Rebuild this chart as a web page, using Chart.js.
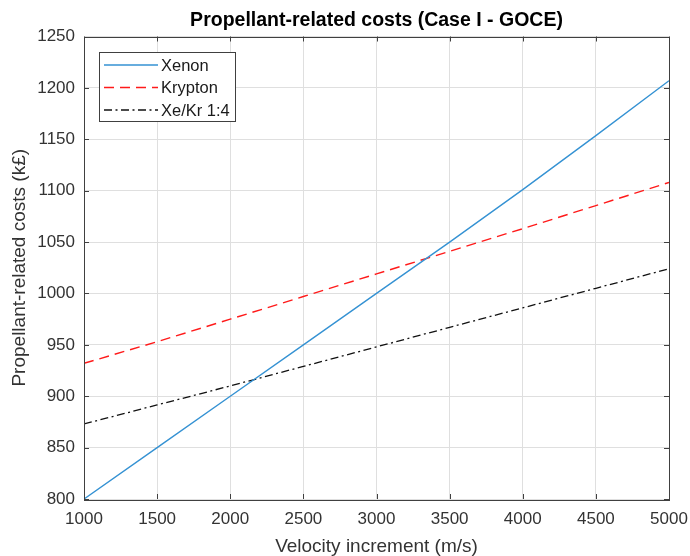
<!DOCTYPE html>
<html>
<head>
<meta charset="utf-8">
<script src="https://cdn.jsdelivr.net/npm/chart.js@4.4.1/dist/chart.umd.min.js"></script>
<style>
  html, body { margin: 0; padding: 0; background: #fff; }
  #wrap { width: 690px; height: 556px; }
</style>
</head>
<body>
<div id="wrap"><canvas id="costChart" width="690" height="556"></canvas></div>
<script>
// Velocity increment (m/s)
const deltaV = [1000, 1500, 2000, 2500, 3000, 3500, 4000, 4500, 5000];

// Propellant-related costs (k£) per propellant option
const xenonCost   = [800, 850, 900, 950, 1000, 1050, 1101, 1153.5, 1207];
const kryptonCost = [932, 953, 975, 997, 1019, 1041, 1063, 1085.5, 1108];
const mixCost     = [873, 891.5, 910, 929, 948, 967, 986, 1005, 1024];

// Axis ticks
const xTicks = [1000, 1500, 2000, 2500, 3000, 3500, 4000, 4500, 5000];
const yTicks = [800, 850, 900, 950, 1000, 1050, 1100, 1150, 1200, 1250];

const FONT = '"Liberation Sans", Arial, Helvetica, sans-serif';
const AXIS_COLOR = '#404040';
const GRID_COLOR = '#dfdfdf';

const toPoints = ys => deltaV.map((x, i) => ({ x: x, y: ys[i] }));

// Axes box with inward tick marks on all four sides
const axesBox = {
    id: 'axesBox',
    afterDatasetsDraw(chart) {
        const ctx = chart.ctx;
        const { left, right, top, bottom } = chart.chartArea;
        const xs = chart.scales.x;
        const ys = chart.scales.y;
        const tickLen = 5;

        ctx.save();
        ctx.strokeStyle = AXIS_COLOR;
        ctx.lineWidth = 1;
        ctx.setLineDash([]);
        ctx.beginPath();
        xs.ticks.forEach(t => {
            const px = Math.round(xs.getPixelForValue(t.value)) + 0.5;
            ctx.moveTo(px, bottom);
            ctx.lineTo(px, bottom - tickLen);
            ctx.moveTo(px, top);
            ctx.lineTo(px, top + tickLen);
        });
        ys.ticks.forEach(t => {
            const py = Math.round(ys.getPixelForValue(t.value)) + 0.5;
            ctx.moveTo(left, py);
            ctx.lineTo(left + tickLen, py);
            ctx.moveTo(right, py);
            ctx.lineTo(right - tickLen, py);
        });
        ctx.stroke();
        ctx.strokeRect(Math.round(left) + 0.5, Math.round(top) + 0.5,
            Math.round(right - left), Math.round(bottom - top));
        ctx.restore();
    }
};

// Boxed legend in the upper-left corner of the plot
const boxLegend = {
    id: 'boxLegend',
    afterDraw(chart) {
        const ctx = chart.ctx;
        const { left, top } = chart.chartArea;
        const x0 = Math.round(left) + 15;
        const y0 = Math.round(top) + 15;
        const w = 136, h = 69;

        ctx.save();
        ctx.fillStyle = '#fff';
        ctx.fillRect(x0, y0, w, h);
        ctx.strokeStyle = AXIS_COLOR;
        ctx.lineWidth = 1;
        ctx.strokeRect(x0 + 0.5, y0 + 0.5, w, h);

        chart.data.datasets.forEach((ds, i) => {
            const y = y0 + 13 + i * 22.5;
            ctx.beginPath();
            ctx.strokeStyle = ds.borderColor;
            ctx.lineWidth = ds.borderWidth;
            ctx.setLineDash(ds.borderDash || []);
            ctx.moveTo(x0 + 5, y);
            ctx.lineTo(x0 + 59, y);
            ctx.stroke();
            ctx.setLineDash([]);
            ctx.fillStyle = '#1a1a1a';
            ctx.font = '16.5px ' + FONT;
            ctx.textAlign = 'left';
            ctx.textBaseline = 'middle';
            ctx.fillText(ds.label, x0 + 62, y + 1);
        });
        ctx.restore();
    }
};

const plainNumber = v => String(v);

const ctx = document.getElementById('costChart').getContext('2d');
const chart = new Chart(ctx, {
    type: 'line',
    data: {
        datasets: [
            {
                label: 'Xenon',
                data: toPoints(xenonCost),
                borderColor: '#3592d3',
                borderWidth: 1.4,
                pointRadius: 0,
                tension: 0
            },
            {
                label: 'Krypton',
                data: toPoints(kryptonCost),
                borderColor: '#ff1a1a',
                borderWidth: 1.4,
                borderDash: [10, 6],
                pointRadius: 0,
                tension: 0
            },
            {
                label: 'Xe/Kr 1:4',
                data: toPoints(mixCost),
                borderColor: '#111',
                borderWidth: 1.3,
                borderDash: [8, 3.5, 2, 3.5],
                pointRadius: 0,
                tension: 0
            }
        ]
    },
    options: {
        responsive: false,
        animation: false,
        devicePixelRatio: 1,
        layout: {
            padding: { left: 0, right: 21, top: 0, bottom: 0 }
        },
        plugins: {
            legend: { display: false },
            tooltip: { enabled: false },
            title: {
                display: true,
                fullSize: false,
                text: 'Propellant-related costs (Case I - GOCE)',
                color: '#000',
                font: { family: FONT, size: 19.5, weight: 'bold', lineHeight: 1 },
                padding: { top: 11, bottom: 6 }
            }
        },
        scales: {
            x: {
                type: 'linear',
                min: 1000,
                max: 5000,
                afterBuildTicks: scale => {
                    scale.ticks = xTicks.map(v => ({ value: v }));
                },
                afterFit: scale => {
                    scale.height = 57;
                    scale.paddingLeft = 0;
                    scale.paddingRight = 0;
                },
                border: { display: false },
                grid: { color: GRID_COLOR, drawTicks: false, lineWidth: 1 },
                ticks: {
                    color: '#333',
                    font: { family: FONT, size: 17 },
                    padding: 10,
                    maxRotation: 0,
                    autoSkip: false,
                    callback: plainNumber
                },
                title: {
                    display: true,
                    text: 'Velocity increment (m/s)',
                    color: '#333',
                    font: { family: FONT, size: 19, lineHeight: 1 },
                    padding: { top: 0, bottom: 0 }
                }
            },
            y: {
                min: 800,
                max: 1250,
                afterBuildTicks: scale => {
                    scale.ticks = yTicks.map(v => ({ value: v }));
                },
                afterFit: scale => {
                    scale.width = 84;
                    scale.paddingTop = 0;
                    scale.paddingBottom = 0;
                },
                border: { display: false },
                grid: { color: GRID_COLOR, drawTicks: false, lineWidth: 1 },
                ticks: {
                    color: '#333',
                    font: { family: FONT, size: 17 },
                    padding: 9,
                    autoSkip: false,
                    callback: plainNumber
                },
                title: {
                    display: true,
                    text: 'Propellant-related costs (k£)',
                    color: '#333',
                    font: { family: FONT, size: 19, lineHeight: 1 },
                    padding: { top: 10.5, bottom: 0 }
                }
            }
        }
    },
    plugins: [axesBox, boxLegend]
});
</script>
</body>
</html>
